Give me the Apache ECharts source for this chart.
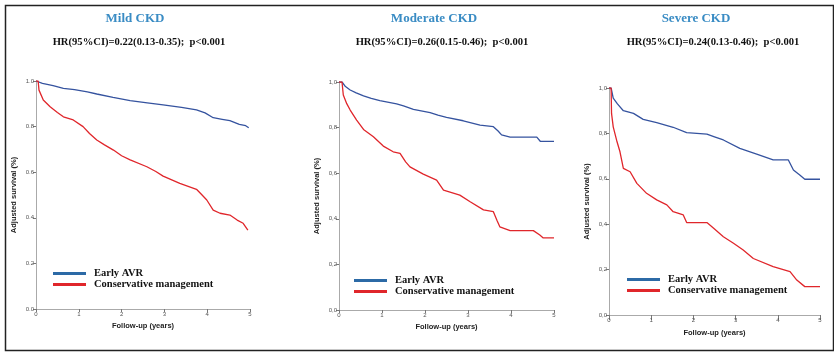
<!DOCTYPE html>
<html>
<head>
<meta charset="utf-8">
<script src="https://cdn.jsdelivr.net/npm/echarts@6/dist/echarts.min.js"></script>
<style>
    html, body { margin: 0; padding: 0; background: #fff; }
    #main { width: 834px; height: 354px; }
</style>
</head>
<body>
<div id="main"></div>
<script>
// [years, adjusted survival]
const mildEarly = [[0, 1], [0.15, 0.99], [0.4, 0.98], [0.64, 0.968], [0.9, 0.962], [1.2, 0.952], [1.42, 0.943], [1.8, 0.928], [2.2, 0.914], [2.6, 0.904], [2.97, 0.895], [3.4, 0.884], [3.75, 0.873], [3.95, 0.86], [4.14, 0.839], [4.35, 0.832], [4.53, 0.826], [4.75, 0.81], [4.9, 0.804], [4.97, 0.795]]
const mildCons = [[0, 1], [0.05, 1], [0.07, 0.96], [0.17, 0.917], [0.33, 0.887], [0.5, 0.862], [0.64, 0.843], [0.87, 0.829], [1.1, 0.8], [1.25, 0.77], [1.42, 0.741], [1.6, 0.72], [1.81, 0.697], [2.0, 0.672], [2.2, 0.654], [2.59, 0.624], [2.8, 0.603], [2.97, 0.583], [3.36, 0.551], [3.75, 0.525], [3.88, 0.5], [3.99, 0.478], [4.14, 0.434], [4.3, 0.42], [4.53, 0.412], [4.7, 0.39], [4.84, 0.376], [4.95, 0.346]]
const modEarly = [[0, 1], [0.07, 1], [0.15, 0.98], [0.26, 0.965], [0.4, 0.952], [0.57, 0.939], [0.75, 0.928], [0.95, 0.918], [1.34, 0.904], [1.5, 0.895], [1.73, 0.88], [2.12, 0.866], [2.3, 0.855], [2.5, 0.845], [2.89, 0.83], [3.28, 0.811], [3.59, 0.804], [3.7, 0.785], [3.78, 0.768], [3.98, 0.758], [4.6, 0.758], [4.68, 0.74], [5, 0.74]]
const modCons = [[0, 1], [0.07, 1], [0.1, 0.943], [0.18, 0.905], [0.26, 0.877], [0.41, 0.833], [0.57, 0.792], [0.8, 0.76], [1.03, 0.719], [1.26, 0.694], [1.42, 0.687], [1.55, 0.65], [1.65, 0.628], [1.96, 0.596], [2.27, 0.57], [2.43, 0.526], [2.81, 0.504], [3.05, 0.475], [3.36, 0.439], [3.59, 0.431], [3.68, 0.39], [3.74, 0.365], [3.98, 0.348], [4.52, 0.348], [4.67, 0.329], [4.75, 0.316], [5, 0.316]]
const sevEarly = [[0, 1], [0.05, 1], [0.1, 0.955], [0.2, 0.93], [0.34, 0.9], [0.58, 0.888], [0.81, 0.862], [1.13, 0.847], [1.52, 0.827], [1.84, 0.803], [2.32, 0.797], [2.5, 0.785], [2.71, 0.771], [3.1, 0.734], [3.5, 0.709], [3.89, 0.683], [4.25, 0.683], [4.37, 0.639], [4.52, 0.617], [4.64, 0.598], [5, 0.598]]
const sevCons = [[0, 1], [0.05, 1], [0.06, 0.888], [0.1, 0.829], [0.18, 0.77], [0.26, 0.719], [0.34, 0.646], [0.5, 0.631], [0.66, 0.58], [0.89, 0.536], [1.13, 0.507], [1.37, 0.485], [1.52, 0.455], [1.76, 0.441], [1.84, 0.407], [2.32, 0.407], [2.48, 0.382], [2.71, 0.345], [2.95, 0.316], [3.18, 0.286], [3.42, 0.249], [3.89, 0.213], [4.29, 0.191], [4.45, 0.154], [4.64, 0.125], [5, 0.125]]

const panelTitles = ['Mild CKD', 'Moderate CKD', 'Severe CKD']
const hrTexts = ['HR(95%CI)=0.22(0.13-0.35);  p<0.001', 'HR(95%CI)=0.26(0.15-0.46);  p<0.001', 'HR(95%CI)=0.24(0.13-0.46);  p<0.001']
const seriesNames = ['Early AVR', 'Conservative management']

const BLUE = '#35539f'
const RED = '#e0262b'
const serif = '"Liberation Serif", "Times New Roman", serif'
const sans = '"Liberation Sans", Arial, sans-serif'

const grids = [
    { left: 36, top: 81, width: 214, height: 228 },
    { left: 339, top: 82, width: 215, height: 228 },
    { left: 609, top: 88, width: 211, height: 227 }
]
const titlePos = [[135, 12, 139, 37], [434, 12, 442, 37], [696, 12, 713, 37]]
const legendPos = [[53, 268], [354, 275], [627, 274]]
const decimalSep = ['.', ',', ',']
const curves = [[mildEarly, mildCons], [modEarly, modCons], [sevEarly, sevCons]]

const chartDom = document.getElementById('main')
const myChart = echarts.init(chartDom)

const title = []
const legend = []
const xAxis = []
const yAxis = []
const series = []

grids.forEach((g, i) => {
    title.push({
        text: panelTitles[i], left: titlePos[i][0], top: titlePos[i][1], textAlign: 'center', padding: 0,
        textStyle: { fontFamily: serif, fontSize: 13, fontWeight: 'bold', color: '#3a8cc4' }
    })
    title.push({
        text: hrTexts[i], left: titlePos[i][2], top: titlePos[i][3], textAlign: 'center', padding: 0,
        textStyle: { fontFamily: serif, fontSize: 10.6, fontWeight: 'bold', color: '#111' }
    })
    legend.push({
        orient: 'vertical', left: legendPos[i][0], top: legendPos[i][1], padding: 0, itemGap: 0,
        icon: 'rect', itemWidth: 33, itemHeight: 3, selectedMode: false,
        data: [
            { name: seriesNames[0], itemStyle: { color: '#2c6aa6' } },
            { name: seriesNames[1], itemStyle: { color: RED } }
        ],
        textStyle: { fontFamily: serif, fontSize: 10.5, fontWeight: 'bold', color: '#111', lineHeight: 11, padding: [0, 0, 0, 3] }
    })
    const sep = decimalSep[i]
    xAxis.push({
        type: 'value', gridIndex: i, min: 0, max: 5, interval: 1,
        name: 'Follow-up (years)', nameLocation: 'middle', nameGap: i === 2 ? 14 : 12,
        nameTextStyle: { fontFamily: sans, fontSize: 7.5, fontWeight: 'bold', color: '#222' },
        axisLine: { lineStyle: { color: '#aaa' } },
        axisTick: { length: i === 2 ? 5 : 3, lineStyle: { color: '#777' } },
        axisLabel: { fontSize: 6, color: '#555', margin: 2 },
        splitLine: { show: false }
    })
    yAxis.push({
        type: 'value', gridIndex: i, min: 0, max: 1, interval: 0.2,
        name: 'Adjusted survival (%)', nameLocation: 'middle', nameRotate: 90, nameGap: 18,
        nameTextStyle: { fontFamily: sans, fontSize: 7.5, fontWeight: 'bold', color: '#222' },
        axisLine: { show: true, lineStyle: { color: '#aaa' } },
        axisTick: { show: true, length: 3, lineStyle: { color: '#777' } },
        axisLabel: { fontSize: 6, color: '#555', margin: 2, formatter: (v) => v.toFixed(1).replace('.', sep) },
        splitLine: { show: false }
    })
    curves[i].forEach((data, k) => {
        series.push({
            name: seriesNames[k], type: 'line', xAxisIndex: i, yAxisIndex: i,
            data: data, showSymbol: false, symbol: 'none',
            itemStyle: { color: k === 0 ? BLUE : RED },
            lineStyle: { width: 1.3, color: k === 0 ? BLUE : RED },
            animation: false
        })
    })
})

const options = {
    backgroundColor: '#fff',
    animation: false,
    title: title,
    legend: legend,
    grid: grids,
    xAxis: xAxis,
    yAxis: yAxis,
    series: series,
    graphic: [{
        type: 'rect', left: 3, top: 3, shape: { width: 828, height: 345 },
        style: { fill: 'none', stroke: '#222', lineWidth: 1.5 }
    }]
}
options && myChart.setOption(options)
</script>
</body>
</html>
